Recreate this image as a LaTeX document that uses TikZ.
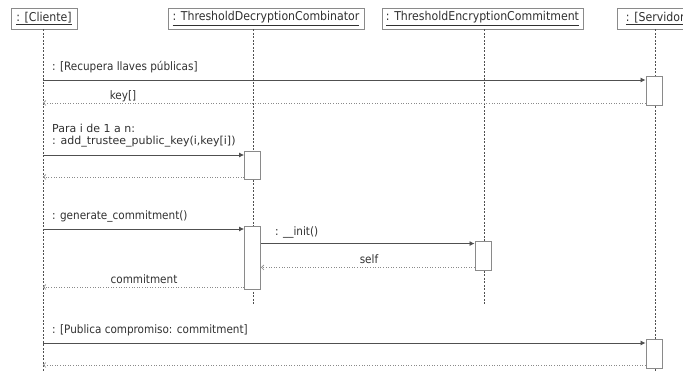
\documentclass[tikz,border=0pt]{standalone}
\usepackage{fontspec}
\setmainfont{DejaVu Sans Condensed}
\newfontfamily\plainsans{DejaVu Sans}
\usetikzlibrary{arrows.meta,positioning}
\definecolor{umlline}{HTML}{505050}
\definecolor{umlbox}{HTML}{8A8A8A}
\definecolor{umltext}{HTML}{303030}
\tikzset{
    Head/.style = {draw=umlbox,line width=0.8pt,inner sep=0pt,minimum height=21pt,
         text=umltext,font=\fontsize{12.2}{14}\selectfont},
    Life/.style = {draw=umlline,dash pattern=on 2pt off 1.5pt,line width=0.5pt},
    Act/.style = {draw=umlbox,fill=white,line width=0.9pt,minimum width=16pt,inner sep=0pt},
    Call/.style = {draw=umlline,line width=0.8pt,-{Latex[length=5pt,width=5pt]}},
    Reply/.style = {draw=umlbox,line width=0.6pt,dotted,-{Straight Barb[length=2.5pt,width=5pt]}},
    Msg/.style = {text=umltext,font=\fontsize{11.6}{13}\selectfont,inner sep=0pt}
}

\begin{document}
\begin{tikzpicture}[x=1pt,y=-1pt]
    \clip (0,0) rectangle (683,371);
    % lifeline heads
    \node[Head,minimum width=66pt] (cli) at (44,18.5) {\underline{: [Cliente]}};
    \node[Head,minimum width=196pt] (tdc) at (266,18.5) {\underline{: ThresholdDecryptionCombinator}};
    \node[Head,minimum width=201pt] (tec) at (482.5,18.5) {\underline{: ThresholdEncryptionCommitment}};
    \node[Head,minimum width=80pt,anchor=west] (srv) at (617,18.5) {\underline{: [Servidor]}};
    % lifelines
    \coordinate (cliEnd) at (43,371);
    \coordinate (tdcEnd) at (253,305);
    \coordinate (tecEnd) at (484,305);
    \coordinate (srvEnd) at (655,371);
    \draw[Life] (cliEnd |- cli.south) -- (cliEnd);
    \draw[Life] (tdcEnd |- tdc.south) -- (tdcEnd);
    \draw[Life] (tecEnd |- tec.south) -- (tecEnd);
    \draw[Life] (srvEnd |- srv.south) -- (srvEnd);
    % activations
    \node[Act,minimum height=29pt] (s1) at (654,90.5) {};
    \node[Act,minimum height=28pt] (d1) at (252.5,165) {};
    \node[Act,minimum height=63pt] (d2) at (252.5,257.5) {};
    \node[Act,minimum height=29pt] (e1) at (483,255.5) {};
    \node[Act,minimum height=29pt] (s2) at (654,353.5) {};
    % points on the client lifeline
    \foreach \N/\Y in {c1/80,c2/103,c3/155,c4/177,c5/229,c6/287,c7/343,c8/365}
        {\coordinate (\N) at (43,\Y);}
    % messages
    \draw[Call] (c1) -- (s1.west |- c1);
    \node[Msg,anchor=west] (m1) at (52,67) {: [Recupera llaves públicas]};
    \draw[Reply] (s1.west |- c2) -- (c2);
    \node[Msg] (m2) at (123,96) {key[]};

    \draw[Call] (c3) -- (d1.west |- c3);
    \node[Msg,anchor=west,font=\plainsans\fontsize{11}{12}\selectfont,align=left] (m3) at (52,136)
        {Para i de 1 a n:\\: add\_trustee\_public\_key(i,key[i])};
    \draw[Reply] (d1.west |- c4) -- (c4);

    \draw[Call] (c5) -- (d2.west |- c5);
    \node[Msg,anchor=west] (m5) at (52,216) {: generate\_commitment()};
    \draw[Call] (d2.north east) ++(0,18) coordinate (i1) -- (e1.west |- i1);
    \node[Msg,anchor=west] (m6) at (275,232) {: \_\_init()};
    \draw[Reply] (e1.south west) ++(0,-3) coordinate (r1) -- (d2.east |- r1);
    \node[Msg] (m7) at (369,259) {self};
    \draw[Reply] (d2.west |- c6) -- (c6);
    \node[Msg] (m8) at (144,279) {commitment};

    \draw[Call] (c7) -- (s2.west |- c7);
    \node[Msg,anchor=west] (m9) at (52,330) {: [Publica compromiso: commitment]};
    \draw[Reply] (s2.west |- c8) -- (c8);
\end{tikzpicture}
\end{document}
